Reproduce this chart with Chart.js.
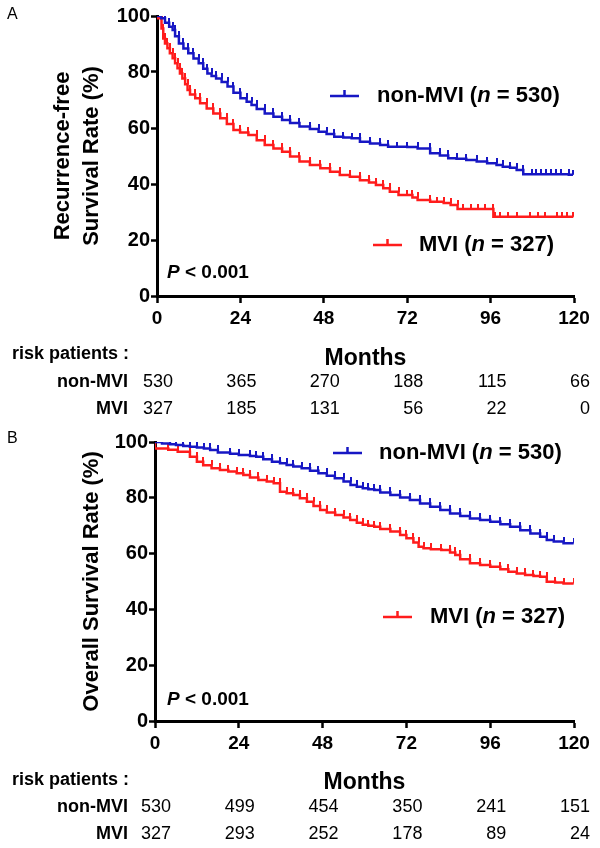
<!DOCTYPE html>
<html>
<head>
<meta charset="utf-8">
<script src="https://cdn.jsdelivr.net/npm/chart.js@4.4.1/dist/chart.umd.min.js"></script>
<style>
  body { margin: 0; background: #fff; }
  .panel { position: relative; width: 600px; height: 424px; }
</style>
</head>
<body>
<div class="panel"><canvas id="rfs" width="600" height="424"></canvas></div>
<div class="panel"><canvas id="os" width="600" height="424"></canvas></div>
<script>
// x axis ticks (months)
const monthTicks = [0, 24, 48, 72, 96, 120]

// A: recurrence-free survival
const rfsNonMviMonths = [0, 1.2, 2.3, 3.5, 4.5, 5.2, 6.3, 7.6, 9, 10.5, 12, 13.3, 14.5, 15.7, 17, 18.6, 20.3, 22, 24, 25.8, 27.2, 28.7, 31, 33.5, 36, 38.3, 41, 44, 46.5, 48.8, 51, 53.6, 56, 58.4, 61.3, 64.2, 66.5, 69, 72, 75, 78.6, 81.4, 83.8, 86.2, 89, 92, 95, 97.7, 99.5, 101.6, 103.5, 105.4, 107.8, 109.2, 110.6, 112, 113.4, 114.8, 116.2, 118.5, 119.7]
const rfsNonMviRate   = [100, 100, 99.2, 97.6, 96.2, 95, 92.8, 90.2, 88.4, 86.7, 84.8, 83.1, 81.2, 79.5, 78.6, 77.7, 76.4, 74.8, 72.6, 70.6, 69.4, 68.2, 66.8, 65.2, 64, 62.9, 61.8, 60.5, 59.6, 58.7, 57.9, 56.9, 56.6, 56.3, 55.1, 54.5, 53.9, 53.3, 53.3, 53.2, 52.7, 51, 50.2, 49.2, 49, 48.6, 48, 47.4, 46.8, 46.2, 45.8, 45, 43.5, 43.5, 43.5, 43.5, 43.5, 43.5, 43.5, 43.5, 43.3]
const rfsMviMonths = [0, 1.3, 1.8, 2.3, 3, 3.7, 4.5, 5.2, 5.9, 6.6, 7.3, 8.1, 8.8, 9.5, 11, 12.4, 14.3, 16.2, 18.2, 20.1, 22, 23.9, 26.3, 28.7, 31, 33.5, 36, 38.3, 41, 44, 47, 49.8, 52.6, 55.5, 58.4, 61, 63, 65.1, 67, 69.5, 71.8, 73.5, 75, 78.6, 80.5, 82.5, 84.5, 86.5, 88.2, 90.5, 92.5, 94.5, 96.8, 97.3, 98.7, 101.1, 103.5, 107.3, 109.7, 111.7, 115, 116.5, 118, 119.8]
const rfsMviRate   = [100, 99.2, 95.5, 92, 90.2, 88.5, 86.7, 84.9, 83.1, 81.3, 79.5, 77.7, 75.6, 73.6, 72, 70.6, 68.8, 67, 65.2, 63.5, 61.4, 59.3, 58.4, 57.5, 55.6, 53.9, 52.7, 51.5, 49.8, 48, 46.8, 45.6, 44.4, 43.2, 42.6, 41.3, 40.5, 39.6, 38.5, 37.2, 36.1, 36.1, 35.2, 34.3, 33.7, 33.7, 33.2, 32.5, 31.1, 31.1, 31.1, 31.1, 31.1, 28.3, 28.3, 28.3, 28.3, 28.3, 28.3, 28.3, 28.3, 28.3, 28.3, 28.3]
const rfsRiskNonMvi = [530, 365, 270, 188, 115, 66]
const rfsRiskMvi    = [327, 185, 131, 56, 22, 0]

// B: overall survival
const osNonMviMonths = [0, 2, 4.3, 6, 8.1, 10, 12, 14, 15.8, 18, 21.5, 24, 27.2, 29, 31, 33.5, 35.8, 37.7, 39.6, 42, 44.4, 46.8, 49.2, 51.5, 54, 56, 57.8, 59.5, 61.1, 62.8, 64.5, 67.4, 70.2, 73, 75.9, 78.8, 81.7, 84.5, 87.4, 90.2, 93.1, 96, 98.9, 101.7, 104.6, 107.5, 110.3, 112.2, 114.2, 117, 119.9]
const osNonMviRate   = [100, 100, 99.5, 99.2, 98.9, 98.6, 98.3, 98, 97.7, 97.1, 96.2, 95.8, 95.3, 95, 94.7, 93.8, 92.9, 92.4, 91.8, 91.2, 90.6, 89.7, 88.8, 87.9, 87, 85.8, 84.6, 84, 83.4, 83.1, 82.8, 81.9, 81, 80.1, 79.2, 78, 76.8, 75.6, 74.4, 73.5, 72.6, 72, 71.4, 70.5, 69.6, 68.4, 67.2, 66, 64.9, 64.3, 63.7]
const osMviMonths = [0, 3.8, 6.5, 10, 12, 13.8, 16.2, 18.6, 21, 23.4, 25.3, 27.2, 29.6, 32, 34, 35.8, 37.7, 39.6, 41.5, 43.5, 45.4, 47.3, 49.2, 51.6, 54, 55.9, 57.8, 59.5, 61.1, 62.8, 64.5, 67.4, 70.2, 72, 74, 75.5, 76.9, 79, 82, 84.5, 86, 87.4, 90.2, 93.1, 96, 98.9, 101.2, 103.6, 106, 108.4, 110.3, 112.2, 114.6, 117, 119.9]
const osMviRate   = [100, 97.7, 97.2, 96.5, 94.7, 92.9, 91.7, 90.6, 90, 89.4, 88.8, 88.2, 87.3, 86.4, 85.8, 85.2, 82.2, 81.6, 81, 79.8, 78.6, 77.1, 75.6, 74.7, 73.8, 72.9, 72, 71.1, 70.3, 70, 69.6, 68.8, 67.9, 66.7, 65.5, 64, 62.5, 61.9, 61.6, 61.3, 60.4, 59.5, 58, 56.5, 55.9, 55.3, 54.4, 53.5, 52.9, 52.3, 52, 51.7, 49.9, 49.6, 49.3]
const osRiskNonMvi = [530, 499, 454, 350, 241, 151]
const osRiskMvi    = [327, 293, 252, 178, 89, 24]

const FONT = "'Liberation Sans', Arial, sans-serif"
const BLUE = '#1717c4'
const RED = '#ff1c1c'

// small upward tick used as the censor mark
function censorMark(color) {
    let c = document.createElement('canvas')
    c.width = 2
    c.height = 10
    let g = c.getContext('2d')
    g.fillStyle = color
    g.fillRect(0, 0, 2, 5)
    return c
}

function series(months, rate, color) {
    return {
        data: months.map((m, i) => ({ x: m, y: rate[i] })),
        borderColor: color,
        borderWidth: 2.5,
        stepped: 'after',
        pointStyle: censorMark(color),
        pointRadius: 3,
        fill: false
    }
}

function drawRich(ctx, parts, x, y) {
    parts.forEach(p => {
        ctx.font = p.font
        ctx.fillText(p.text, x, y)
        x += ctx.measureText(p.text).width
    })
}

const annotate = {
    id: 'annotate',
    afterDraw(chart, args, opts) {
        let ctx = chart.ctx
        let xs = chart.scales.x
        ctx.save()
        ctx.fillStyle = '#000'
        ctx.textBaseline = 'middle'
        ctx.textAlign = 'left'

        ctx.font = '16px ' + FONT
        ctx.fillText(opts.panel, 7, opts.panelY)

        drawRich(ctx, [
            { text: 'P', font: 'italic bold 19px ' + FONT },
            { text: ' < 0.001', font: 'bold 19px ' + FONT }
        ], 167, opts.pY)

        opts.legend.forEach(e => {
            ctx.strokeStyle = e.color
            ctx.lineWidth = 2.5
            ctx.beginPath()
            ctx.moveTo(e.x0, e.y)
            ctx.lineTo(e.x0 + 29, e.y)
            ctx.moveTo(e.x0 + 14.5, e.y)
            ctx.lineTo(e.x0 + 14.5, e.y - 6)
            ctx.stroke()
            ctx.fillStyle = '#000'
            drawRich(ctx, [
                { text: e.label + ' (', font: 'bold 22px ' + FONT },
                { text: 'n', font: 'italic bold 22px ' + FONT },
                { text: ' = ' + e.n + ')', font: 'bold 22px ' + FONT }
            ], e.tx, e.y)
        })

        ctx.font = 'bold 18px ' + FONT
        ctx.fillText('risk patients :', 12, opts.riskY[0])
        opts.risk.forEach((row, i) => {
            let y = opts.riskY[i + 1]
            ctx.textAlign = 'right'
            ctx.font = 'bold 18px ' + FONT
            ctx.fillText(row.label, 128, y)
            ctx.font = '18px ' + FONT
            row.counts.forEach((c, j) => {
                ctx.fillText(String(c), xs.getPixelForValue(monthTicks[j]) + 16, y)
            })
        })
        ctx.restore()
    }
}

function makeChart(id, cfg) {
    return new Chart(document.getElementById(id), {
        type: 'line',
        data: { datasets: cfg.datasets },
        plugins: [annotate],
        options: {
            responsive: false,
            animation: false,
            devicePixelRatio: 1,
            layout: { padding: { left: 0, right: 26, top: cfg.top, bottom: 0 } },
            scales: {
                x: {
                    type: 'linear',
                    min: 0,
                    max: 120,
                    afterBuildTicks: s => { s.ticks = monthTicks.map(v => ({ value: v })) },
                    afterFit: s => { s.height = cfg.xHeight },
                    border: { display: true, color: '#000', width: 3 },
                    grid: { drawOnChartArea: false, drawTicks: true, tickLength: 7, tickWidth: 2.5, tickColor: '#000' },
                    ticks: { color: '#000', padding: 4, maxRotation: 0, font: { family: FONT, size: 19, weight: 'bold' } },
                    title: { display: true, text: 'Months', color: '#000', padding: { top: 0, bottom: 52 }, font: { family: FONT, size: 23, weight: 'bold' } }
                },
                y: {
                    min: 0,
                    max: 100,
                    ticks: { stepSize: 20, color: '#000', padding: 1, font: { family: FONT, size: 20, weight: 'bold' } },
                    afterFit: s => { s.width = cfg.yWidth },
                    border: { display: true, color: '#000', width: 3 },
                    grid: { drawOnChartArea: false, drawTicks: true, tickLength: 6, tickWidth: 2.5, tickColor: '#000' },
                    title: { display: true, text: cfg.yTitle, color: '#000', padding: { top: cfg.titlePad, bottom: 0 }, font: { family: FONT, size: 22, weight: 'bold', lineHeight: 1.3 } }
                }
            },
            plugins: {
                legend: { display: false },
                tooltip: { enabled: false },
                annotate: cfg.annotate
            }
        }
    })
}

makeChart('rfs', {
    top: 16,
    xHeight: 128,
    yWidth: 157,
    titlePad: 49,
    yTitle: ['Recurrence-free', 'Survival Rate (%)'],
    datasets: [
        series(rfsNonMviMonths, rfsNonMviRate, BLUE),
        series(rfsMviMonths, rfsMviRate, RED)
    ],
    annotate: {
        panel: 'A', panelY: 15, pY: 273,
        legend: [
            { color: BLUE, x0: 330, tx: 377, y: 96, label: 'non-MVI', n: 530 },
            { color: RED, x0: 373, tx: 419, y: 245, label: 'MVI', n: 327 }
        ],
        riskY: [354, 382, 409],
        risk: [
            { label: 'non-MVI', counts: rfsRiskNonMvi },
            { label: 'MVI', counts: rfsRiskMvi }
        ]
    }
})

makeChart('os', {
    top: 18,
    xHeight: 127,
    yWidth: 155,
    titlePad: 78,
    yTitle: 'Overall Survival Rate (%)',
    datasets: [
        series(osNonMviMonths, osNonMviRate, BLUE),
        series(osMviMonths, osMviRate, RED)
    ],
    annotate: {
        panel: 'B', panelY: 15, pY: 276,
        legend: [
            { color: BLUE, x0: 333, tx: 379, y: 29, label: 'non-MVI', n: 530 },
            { color: RED, x0: 383, tx: 430, y: 193, label: 'MVI', n: 327 }
        ],
        riskY: [356, 383, 410],
        risk: [
            { label: 'non-MVI', counts: osRiskNonMvi },
            { label: 'MVI', counts: osRiskMvi }
        ]
    }
})
</script>
</body>
</html>
